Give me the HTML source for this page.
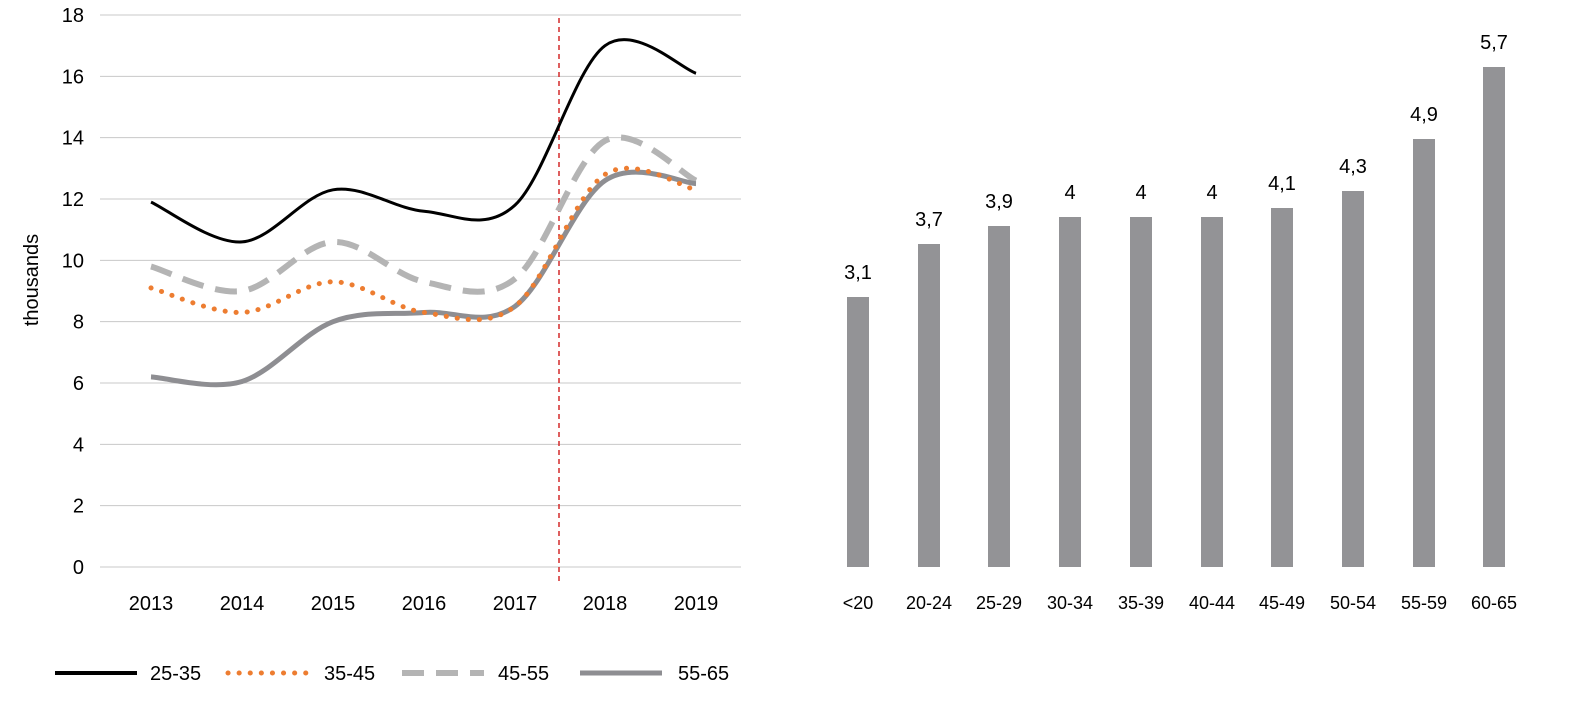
<!DOCTYPE html>
<html><head><meta charset="utf-8"><style>
body{margin:0;background:#fff;width:1581px;height:721px;overflow:hidden}
text{font-family:"Liberation Sans",Arial,sans-serif;fill:#000}
</style></head><body>
<svg id="s" width="1581" height="721" xmlns="http://www.w3.org/2000/svg">
<g id="grid" stroke="#c8c8c8" stroke-width="1"></g>
<g id="ylab" font-size="20" text-anchor="end"></g>
<text x="38" y="280" font-size="20" text-anchor="middle" transform="rotate(-90 38 280)">thousands</text>
<g id="xlab" font-size="20" text-anchor="middle"></g>
<line x1="559" y1="18" x2="559" y2="583" stroke="#d42a2a" stroke-width="1.5" stroke-dasharray="5,4"/>
<g id="lines" fill="none"></g>
<g id="bars"></g>
<g font-size="20">
<line x1="55" y1="673" x2="137" y2="673" stroke="#000" stroke-width="4"/>
<text x="150" y="680">25-35</text>
<line x1="228" y1="673" x2="310" y2="673" stroke="#ed7d31" stroke-width="5" stroke-dasharray="0.1,11" stroke-linecap="round"/>
<text x="324" y="680">35-45</text>
<line x1="402" y1="673" x2="484" y2="673" stroke="#b4b4b4" stroke-width="6" stroke-dasharray="22,12"/>
<text x="498" y="680">45-55</text>
<line x1="580" y1="673" x2="662" y2="673" stroke="#8e8e92" stroke-width="5"/>
<text x="678" y="680">55-65</text>
</g>
</svg>
<script>
const ns="http://www.w3.org/2000/svg";
function el(p,t,a,txt){const e=document.createElementNS(ns,t);for(const k in a)e.setAttribute(k,a[k]);if(txt!=null)e.textContent=txt;document.getElementById(p).appendChild(e);}
const Y=v=>567-v*(552/18);
for(let v=0;v<=18;v+=2){el('grid','line',{x1:100,x2:741,y1:Y(v),y2:Y(v)});el('ylab','text',{x:84,y:Y(v)+7},v);}
const xs=[151,242,333,424,515,605,696];
['2013','2014','2015','2016','2017','2018','2019'].forEach((t,i)=>el('xlab','text',{x:xs[i],y:610},t));
function path(vals){const p=vals.map((v,i)=>[xs[i],Y(v)]);let d=`M${p[0][0]},${p[0][1]}`;
for(let i=0;i<p.length-1;i++){const p0=p[i-1]||p[i],p1=p[i],p2=p[i+1],p3=p[i+2]||p2;
const c1=[p1[0]+(p2[0]-p0[0])/6,p1[1]+(p2[1]-p0[1])/6],c2=[p2[0]-(p3[0]-p1[0])/6,p2[1]-(p3[1]-p1[1])/6];
d+=` C${c1[0]},${c1[1]} ${c2[0]},${c2[1]} ${p2[0]},${p2[1]}`;}return d;}
el('lines','path',{d:path([9.8,9.0,10.6,9.3,9.4,13.9,12.6]),stroke:'#b4b4b4','stroke-width':6,'stroke-dasharray':'22,12'});
el('lines','path',{d:path([6.2,6.05,8.0,8.3,8.5,12.6,12.5]),stroke:'#8e8e92','stroke-width':5});
el('lines','path',{d:path([9.1,8.3,9.3,8.3,8.5,12.8,12.3]),stroke:'#ed7d31','stroke-width':5,'stroke-dasharray':'0.1,11','stroke-linecap':'round'});
el('lines','path',{d:path([11.9,10.6,12.3,11.6,11.8,17.0,16.1]),stroke:'#000','stroke-width':3});
const bx=[858,929,999,1070,1141,1212,1282,1353,1424,1494],bv=[3.1,3.7,3.9,4,4,4,4.1,4.3,4.9,5.7],
bl=['<20','20-24','25-29','30-34','35-39','40-44','45-49','50-54','55-59','60-65'];
const bt=[297,244,226,217,217,217,208,191,139,67];
bx.forEach((x,i)=>{el('bars','rect',{x:x-11,y:bt[i],width:22,height:567-bt[i],fill:'#939396'});
el('bars','text',{x:x,y:bt[i]-18,'font-size':20,'text-anchor':'middle'},String(bv[i]).replace('.',','));
el('bars','text',{x:x,y:609,'font-size':18,'text-anchor':'middle'},bl[i]);});
</script>
</body></html>
